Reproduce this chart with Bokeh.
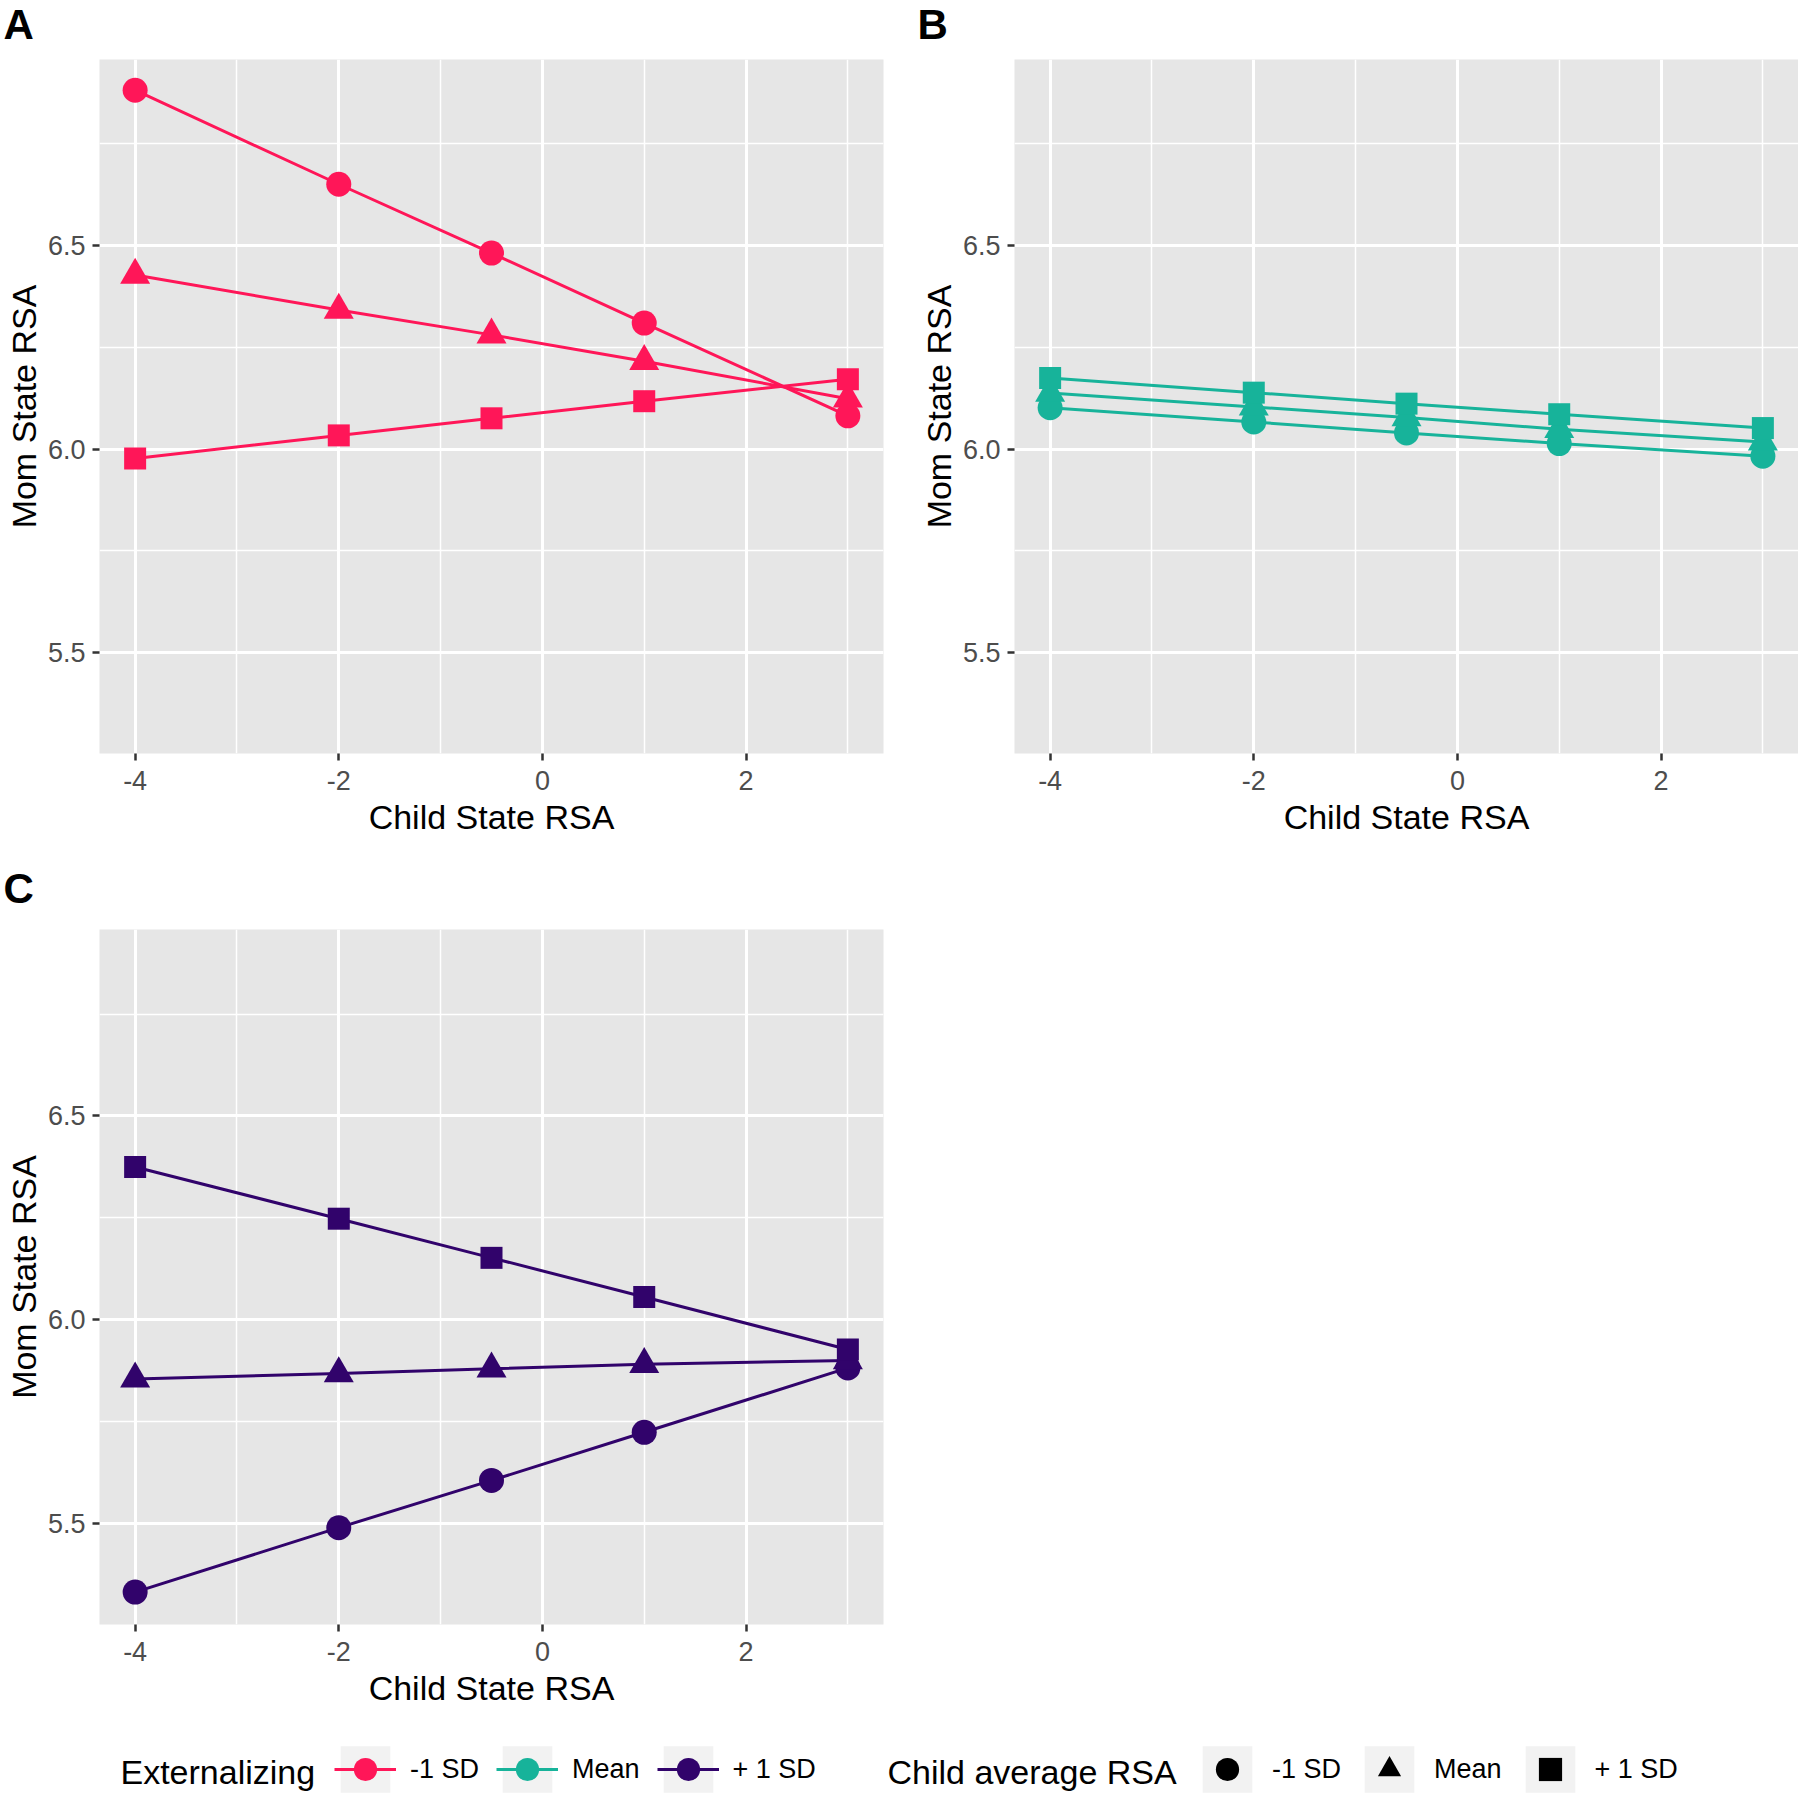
from bokeh.plotting import figure
from bokeh.layouts import column, row
from bokeh.models import Range1d, FixedTicker, Legend, LegendItem, Spacer, Label
from bokeh.embed import file_html
from bokeh.resources import INLINE

# ---------------- data ----------------
child_state = [-4, -2, -0.5, 1, 3]
levels = ["-1 SD", "Mean", "+ 1 SD"]
ext_colors = ["#FF1658", "#17B39A", "#31036B"]
shapes = ["circle", "triangle", "square"]

x_ticks = [-4, -2, 0, 2]
x_tick_labels = ["-4", "-2", "0", "2"]
x_minor = [-3, -1, 1, 3]
y_ticks = [5.5, 6.0, 6.5]
y_tick_labels = ["5.5", "6.0", "6.5"]
y_minor = [5.75, 6.25, 6.75]

# Panel A (Externalizing -1 SD): child average RSA -1 SD, Mean, +1 SD
a_low = [6.882, 6.651, 6.482, 6.310, 6.082]
a_mean = [6.428, 6.342, 6.281, 6.216, 6.124]
a_high = [5.977, 6.034, 6.076, 6.118, 6.172]
# Panel B (Externalizing Mean)
b_low = [6.102, 6.067, 6.040, 6.014, 5.983]
b_mean = [6.138, 6.104, 6.078, 6.049, 6.018]
b_high = [6.175, 6.139, 6.112, 6.086, 6.052]
# Panel C (Externalizing +1 SD)
c_low = [5.332, 5.490, 5.606, 5.724, 5.882]
c_mean = [5.855, 5.868, 5.880, 5.891, 5.900]
c_high = [6.375, 6.248, 6.152, 6.056, 5.927]

panel_letters = ["A", "B", "C"]
legend_titles = ["Externalizing", "Child average RSA"]

FONT = "Liberation Sans"
marker_sizes = {"circle": 25, "triangle": 30, "square": 22}
PANEL_BG = "#E6E6E6"
TOTAL_W = 1798

x_lo, x_hi = -4.35, 3.35
y_lo, y_hi = 5.2525, 6.9575


def make_panel(series, color, width, height, left, right, bottom):
    p = figure(width=width, height=height,
               x_range=Range1d(x_lo, x_hi), y_range=Range1d(y_lo, y_hi),
               output_backend="svg", toolbar_location=None,
               min_border_left=left, min_border_right=right,
               min_border_top=0, min_border_bottom=bottom,
               background_fill_color=PANEL_BG, border_fill_color="white",
               outline_line_color=None,
               x_axis_label="Child State RSA", y_axis_label="Mom State RSA")

    xt = FixedTicker(ticks=x_ticks, minor_ticks=x_minor)
    yt = FixedTicker(ticks=y_ticks, minor_ticks=y_minor)
    p.xaxis.ticker = xt
    p.xgrid.ticker = xt
    p.yaxis.ticker = yt
    p.ygrid.ticker = yt
    p.xaxis.major_label_overrides = dict(zip(x_ticks, x_tick_labels))
    p.yaxis.major_label_overrides = dict(zip(y_ticks, y_tick_labels))

    for ax in (p.xaxis[0], p.yaxis[0]):
        ax.axis_line_color = None
        ax.major_tick_line_color = "#333333"
        ax.major_tick_line_width = 2.5
        ax.major_tick_out = 7
        ax.major_tick_in = 0
        ax.minor_tick_line_color = None
        ax.major_label_text_font = FONT
        ax.major_label_text_font_size = "27px"
        ax.major_label_text_color = "#4D4D4D"
        ax.axis_label_text_font = FONT
        ax.axis_label_text_font_size = "34px"
        ax.axis_label_text_font_style = "normal"
        ax.axis_label_text_color = "black"
    p.xaxis.major_label_standoff = 10
    p.xaxis.axis_label_standoff = 5
    p.yaxis.major_label_standoff = 7
    p.yaxis.axis_label_standoff = 2

    for g in (p.xgrid[0], p.ygrid[0]):
        g.grid_line_color = "white"
        g.grid_line_width = 3
        g.minor_grid_line_color = "white"
        g.minor_grid_line_width = 1.5

    for vals in series:
        p.line(child_state, vals, line_color=color, line_width=3)
    for vals, shp in zip(series, shapes):
        p.scatter(child_state, vals, marker=shp, size=marker_sizes[shp],
                  fill_color=color, line_color=None)
    return p


def make_strip(height, letters, xs, y_pos):
    s = figure(width=TOTAL_W, height=height, x_range=Range1d(0, TOTAL_W),
               y_range=Range1d(0, height), x_axis_type=None, y_axis_type=None,
               output_backend="svg", toolbar_location=None, min_border=0,
               outline_line_color=None, background_fill_color="white",
               border_fill_color="white")
    for lx, letter in zip(xs, letters):
        s.add_layout(Label(x=lx, y=y_pos, text=letter, text_font=FONT,
                           text_font_size="42px", text_font_style="bold",
                           text_color="black", text_baseline="alphabetic",
                           text_align="left"))
    return s


strip1 = make_strip(59, panel_letters[:2], [3, 917], 35)
pA = make_panel([a_low, a_mean, a_high], ext_colors[0], 915, 801, 99, 32, 107)
pB = make_panel([b_low, b_mean, b_high], ext_colors[1], 883, 801, 99, 0, 107)
strip2 = make_strip(69, panel_letters[2:], [3], 41)
pC = make_panel([c_low, c_mean, c_high], ext_colors[2], 915, 811, 99, 32, 116)
spacer = Spacer(width=883, height=811)

# ---------------- legend strip ----------------
LH = 58
lg = figure(width=TOTAL_W, height=LH, x_range=Range1d(0, TOTAL_W), y_range=Range1d(0, LH),
            x_axis_type=None, y_axis_type=None, output_backend="svg",
            toolbar_location=None, min_border=0, outline_line_color=None,
            background_fill_color="white", border_fill_color="white")

# legend-only renderers: their single point lies outside the visible range
off_x = [-500, -400]
off_y = [-500, -400]

items1 = []
for lev, col in zip(levels, ext_colors):
    bg = lg.rect(x=off_x[:1], y=off_y[:1], width=1, height=1, fill_color="#F2F2F2", line_color=None)
    ln = lg.line(x=off_x, y=off_y, line_color=col, line_width=3)
    pt = lg.scatter(x=off_x[:1], y=off_y[:1], marker="circle", size=25, fill_color=col, line_color=None)
    items1.append(LegendItem(label=lev, renderers=[bg, ln, pt]))

items2 = []
for lev, shp in zip(levels, shapes):
    bg = lg.rect(x=off_x[:1], y=off_y[:1], width=1, height=1, fill_color="#F2F2F2", line_color=None)
    pt = lg.scatter(x=off_x[:1], y=off_y[:1], marker=shp, size=25, fill_color="black", line_color=None)
    items2.append(LegendItem(label=lev, renderers=[bg, pt]))


def style_legend(leg):
    leg.orientation = "horizontal"
    leg.label_text_font = FONT
    leg.label_text_font_size = "27px"
    leg.label_text_color = "black"
    leg.glyph_width = 62
    leg.glyph_height = 58
    leg.label_standoff = 14
    leg.spacing = 17
    leg.padding = 0
    leg.margin = 0
    leg.border_line_color = None
    leg.background_fill_alpha = 0


leg1 = Legend(items=items1, location=(334, 0))
leg2 = Legend(items=items2, location=(1196, 0))
style_legend(leg1)
style_legend(leg2)
lg.add_layout(leg1)
lg.add_layout(leg2)

for tx, title in zip([120, 887], legend_titles):
    lg.add_layout(Label(x=tx, y=27, text=title, text_font=FONT, text_font_size="34px",
                        text_color="black", text_baseline="middle", text_align="left"))

layout = column(strip1, row(pA, pB), strip2, row(pC, spacer), lg)

with open("out.html", "w") as f:
    f.write(file_html(layout, INLINE))
